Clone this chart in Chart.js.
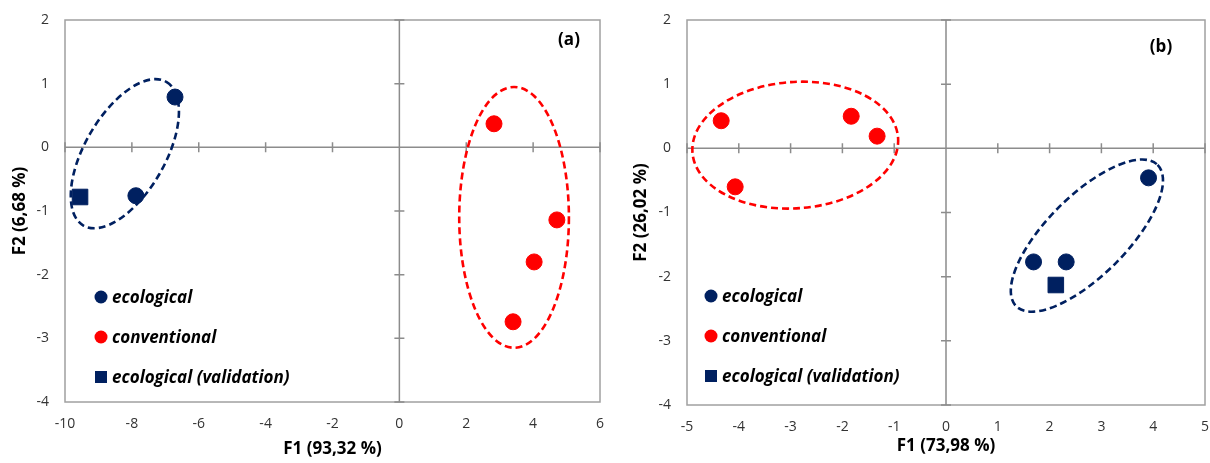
<!DOCTYPE html>
<html>
<head>
<meta charset="utf-8">
<script src="https://cdn.jsdelivr.net/npm/chart.js@4.4.0/dist/chart.umd.min.js"></script>
<style>
    body { margin: 0; background: #fff; }
    .box { position: absolute; top: 0; width: 605px; height: 463px; }
</style>
</head>
<body>
<div class="box" style="left:0"><canvas id="chart_a"></canvas></div>
<div class="box" style="left:605px"><canvas id="chart_b"></canvas></div>
<script>
// tick values
const yTicks = [-4, -3, -2, -1, 0, 1, 2]
const xTicksA = [-10, -8, -6, -4, -2, 0, 2, 4, 6]
const xTicksB = [-5, -4, -3, -2, -1, 0, 1, 2, 3, 4, 5]

// (a) F1 93,32 % / F2 6,68 %
const ecoA_x = [-6.71, -7.88]
const ecoA_y = [0.79, -0.76]
const convA_x = [2.83, 4.71, 4.03, 3.40]
const convA_y = [0.37, -1.14, -1.80, -2.74]
const valA_x = [-9.55]
const valA_y = [-0.78]

// (b) F1 73,98 % / F2 26,02 %
const ecoB_x = [3.91, 1.69, 2.32]
const ecoB_y = [-0.46, -1.77, -1.77]
const convB_x = [-4.34, -4.07, -1.83, -1.33]
const convB_y = [0.43, -0.60, 0.50, 0.19]
const valB_x = [2.12]
const valB_y = [-2.13]

// group ellipses: centre in data units, radii in F1 units, angle in degrees
const ellipsesA = [
    { group: 'ecological', x: -8.21, y: -0.10, rx: 2.48, ry: 1.20, angle: -60 },
    { group: 'conventional', x: 3.43, y: -1.10, rx: 1.64, ry: 3.90, angle: 0 }
]
const ellipsesB = [
    { group: 'conventional', x: -2.91, y: 0.05, rx: 1.99, ry: 1.22, angle: -4 },
    { group: 'ecological', x: 2.72, y: -1.36, rx: 1.93, ry: 0.77, angle: -45 }
]

const NAVY = '#002060'
const RED = '#ff0000'
const groupColor = { ecological: NAVY, conventional: RED }
const FONT = "'Open Sans', sans-serif"

function points(xs, ys) {
    return xs.map((x, i) => ({ x: x, y: ys[i] }))
}

// box, axes crossing at zero and the dashed ellipses
const crossAxes = {
    id: 'crossAxes',
    beforeDatasetsDraw(chart, args, opts) {
        const { ctx, chartArea: a, scales: { x, y } } = chart
        const x0 = x.getPixelForValue(0)
        const y0 = y.getPixelForValue(0)
        ctx.save()
        ctx.strokeStyle = '#a0a0a0'
        ctx.lineWidth = 1.5
        ctx.strokeRect(a.left, a.top, a.width, a.height)

        ctx.strokeStyle = '#8c8c8c'
        ctx.beginPath()
        ctx.moveTo(a.left, y0); ctx.lineTo(a.right, y0)
        ctx.moveTo(x0, a.top); ctx.lineTo(x0, a.bottom)
        x.ticks.forEach(t => {
            const px = x.getPixelForValue(t.value)
            ctx.moveTo(px, y0 - 5); ctx.lineTo(px, y0 + 5)
        })
        y.ticks.forEach(t => {
            const py = y.getPixelForValue(t.value)
            ctx.moveTo(x0 - 5, py); ctx.lineTo(x0 + 5, py)
        })
        ctx.stroke()

        const unit = Math.abs(x.getPixelForValue(1) - x.getPixelForValue(0))
        opts.ellipses.forEach(e => {
            ctx.beginPath()
            ctx.ellipse(x.getPixelForValue(e.x), y.getPixelForValue(e.y),
                e.rx * unit, e.ry * unit, e.angle * Math.PI / 180, 0, Math.PI * 2)
            ctx.strokeStyle = groupColor[e.group]
            ctx.lineWidth = 2.6
            ctx.setLineDash([7, 4])
            ctx.stroke()
        })
        ctx.restore()
    },
    afterDraw(chart, args, opts) {
        const { ctx, chartArea: a } = chart
        ctx.save()
        // panel tag
        ctx.font = 'bold 17px ' + FONT
        ctx.fillStyle = '#000'
        ctx.textAlign = 'center'
        ctx.textBaseline = 'middle'
        ctx.fillText(opts.tag, a.right - opts.tagDx, a.top + opts.tagDy)

        // legend inside the plot
        ctx.textAlign = 'left'
        ctx.font = 'italic bold 17px ' + FONT
        chart.data.datasets.forEach((ds, i) => {
            const mx = a.left + opts.legendDx
            const my = a.bottom - opts.legendDy + i * 40
            ctx.fillStyle = ds.backgroundColor
            if (ds.pointStyle === 'rect') {
                ctx.fillRect(mx - 6, my - 6, 12, 12)
            } else {
                ctx.beginPath()
                ctx.arc(mx, my, 6.5, 0, Math.PI * 2)
                ctx.fill()
            }
            ctx.fillStyle = '#000'
            ctx.fillText(ds.label, mx + 11, my + 1)
        })
        ctx.restore()
    }
}

function makeChart(id, d, o) {
    return new Chart(document.getElementById(id).getContext('2d'), {
        type: 'scatter',
        data: {
            datasets: [
                { label: 'ecological', data: d.eco, backgroundColor: NAVY, borderColor: NAVY, pointStyle: 'circle', pointRadius: 8, pointHoverRadius: 8 },
                { label: 'conventional', data: d.conv, backgroundColor: RED, borderColor: RED, pointStyle: 'circle', pointRadius: 8, pointHoverRadius: 8 },
                { label: 'ecological (validation)', data: d.val, backgroundColor: NAVY, borderColor: NAVY, pointStyle: 'rect', pointRadius: 11, pointHoverRadius: 11 }
            ]
        },
        options: {
            responsive: true,
            maintainAspectRatio: false,
            animation: false,
            layout: { autoPadding: false, padding: { top: 20, right: 5, left: 0, bottom: 0 } },
            plugins: {
                legend: { display: false },
                tooltip: { enabled: false },
                crossAxes: o.plug
            },
            scales: {
                x: {
                    min: d.xTicks[0],
                    max: d.xTicks[d.xTicks.length - 1],
                    afterBuildTicks: s => { s.ticks = d.xTicks.map(v => ({ value: v })) },
                    afterFit: s => { s.height = o.xHeight; s.paddingLeft = 0; s.paddingRight = 0 },
                    grid: { display: false, drawTicks: false },
                    border: { display: false },
                    ticks: { padding: 14, color: '#333', font: { family: FONT, size: 14 } },
                    title: { display: true, text: o.xTitle, color: '#000', padding: { top: 0, bottom: o.xTitlePad }, font: { family: FONT, size: 17, weight: 'bold' } }
                },
                y: {
                    min: yTicks[0],
                    max: yTicks[yTicks.length - 1],
                    afterBuildTicks: s => { s.ticks = yTicks.map(v => ({ value: v })) },
                    afterFit: s => { s.width = o.yWidth; s.paddingTop = 0; s.paddingBottom = 0 },
                    grid: { display: false, drawTicks: false },
                    border: { display: false },
                    ticks: { padding: 16, color: '#333', font: { family: FONT, size: 14 } },
                    title: { display: true, text: o.yTitle, color: '#000', padding: { top: o.yTitlePad, bottom: 0 }, font: { family: FONT, size: 17, weight: 'bold' } }
                }
            }
        },
        plugins: [crossAxes]
    })
}

makeChart('chart_a',
    { eco: points(ecoA_x, ecoA_y), conv: points(convA_x, convA_y), val: points(valA_x, valA_y), xTicks: xTicksA },
    {
        xTitle: 'F1 (93,32 %)', yTitle: 'F2 (6,68 %)',
        xHeight: 61, yWidth: 65, xTitlePad: 4, yTitlePad: 10,
        plug: { ellipses: ellipsesA, tag: '(a)', tagDx: 31, tagDy: 20, legendDx: 36, legendDy: 105 }
    })

makeChart('chart_b',
    { eco: points(ecoB_x, ecoB_y), conv: points(convB_x, convB_y), val: points(valB_x, valB_y), xTicks: xTicksB },
    {
        xTitle: 'F1 (73,98 %)', yTitle: 'F2 (26,02 %)',
        xHeight: 58, yWidth: 82, xTitlePad: 7, yTitlePad: 26,
        plug: { ellipses: ellipsesB, tag: '(b)', tagDx: 44, tagDy: 27, legendDx: 24, legendDy: 109 }
    })
</script>
</body>
</html>
